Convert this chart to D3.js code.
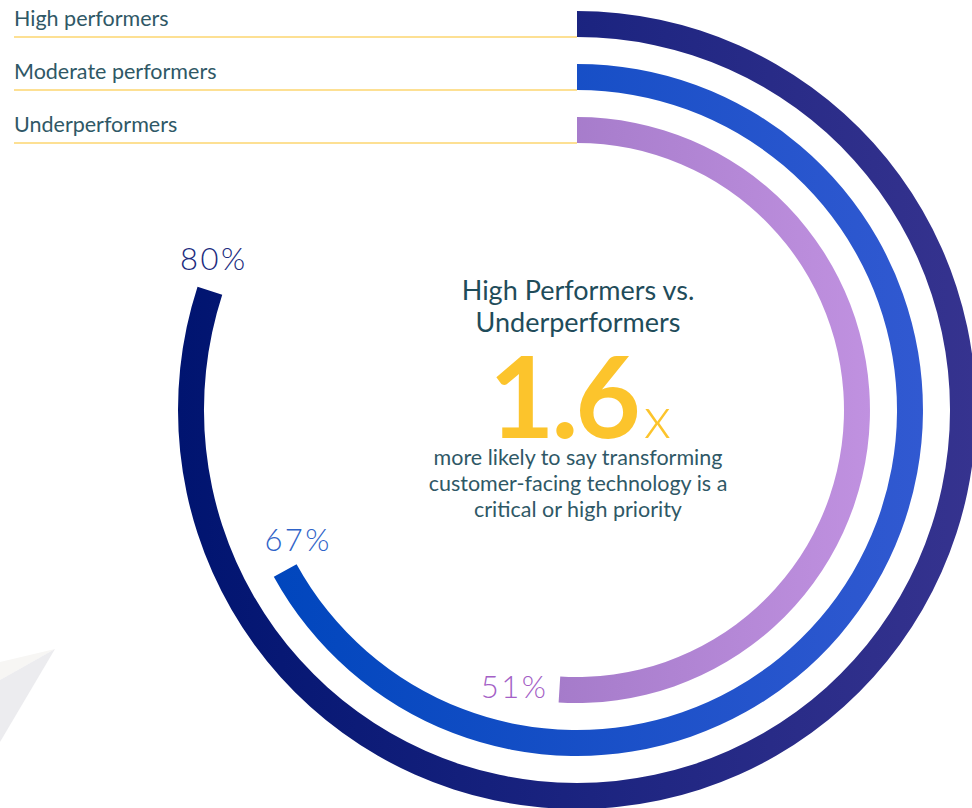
<!DOCTYPE html>
<html>
<head>
<meta charset="utf-8">
<script src="https://cdn.jsdelivr.net/npm/d3@7"></script>
<style>
  body { margin: 0; background: #fff; }
  svg { display: block; font-family: Lato, "Open Sans", sans-serif; }
</style>
</head>
<body>
<svg id="chart"></svg>
<script>
var width = 972;
var height = 808;

// data
var categories = ['High performers', 'Moderate performers', 'Underperformers'];
var values = [80, 67, 51];
var labels = ['80%', '67%', '51%'];
var colorsLeft = ['#001470', '#0046bd', '#a57bca'];
var colorsRight = ['#36338f', '#3159d1', '#c091e0'];
var labelColors = ['#1b2b7e', '#2f63c8', '#a45fc6'];

var headline = ['High Performers vs.', 'Underperformers'];
var bigNumber = '1.6';
var blurb = ['more likely to say transforming', 'customer-facing technology is a', 'critical or high priority'];

var cx = 577, cy = 410;

var svg = d3.select('#chart')
    .attr('width', width)
    .attr('height', height);

// faint paper plane piece, bottom left
svg.append('path')
    .attr('d', 'M55,649 L0,662 L0,680 Z')
    .style('fill', '#f7f6f4');
svg.append('path')
    .attr('d', 'M55,649 L0,680 L0,742 Z')
    .style('fill', '#ececef');

var angle = d3.scaleLinear()
    .domain([0, 100])
    .range([0, 2 * Math.PI]);

var radius = d3.scaleBand()
    .domain(categories.slice().reverse())
    .range([267, 399])
    .paddingInner(0.51);

var bw = radius.bandwidth();

var arc = d3.arc()
    .innerRadius(function(d){ return radius(d.cat); })
    .outerRadius(function(d){ return radius(d.cat) + bw; })
    .startAngle(0)
    .endAngle(function(d){ return angle(d.value); });

var rows = categories.map(function(c, i){
    return {cat: c, value: values[i], label: labels[i], i: i};
});

// gradients run left -> right over each arc's horizontal extent (centre coords)
var defs = svg.append('defs');
rows.forEach(function(d){
    var r1 = radius(d.cat) + bw;
    var a = angle(d.value);
    var left = a > 1.5 * Math.PI ? -r1 : r1 * Math.sin(a) - 2;
    var g = defs.append('linearGradient')
        .attr('id', 'grad' + d.i)
        .attr('gradientUnits', 'userSpaceOnUse')
        .attr('x1', left).attr('y1', 0)
        .attr('x2', r1).attr('y2', 0);
    g.append('stop').attr('offset', '0%').attr('stop-color', colorsLeft[d.i]);
    g.append('stop').attr('offset', '100%').attr('stop-color', colorsRight[d.i]);
});

// legend rules + names
var legend = svg.append('g');
rows.forEach(function(d){
    var yl = cy - radius(d.cat);
    legend.append('line')
        .attr('x1', 14).attr('x2', cx)
        .attr('y1', yl).attr('y2', yl)
        .style('stroke', '#fdd66f')
        .style('stroke-width', 1.6);
    legend.append('text')
        .attr('x', 14)
        .attr('y', yl - 11)
        .text(d.cat)
        .style('font-size', '21.5px')
        .style('fill', '#2f5866');
});

var g = svg.append('g')
    .attr('transform', 'translate(' + cx + ',' + cy + ')');

g.selectAll('path.bar')
    .data(rows)
    .enter()
    .append('path')
    .attr('class', 'bar')
    .attr('d', arc)
    .style('fill', function(d){ return 'url(#grad' + d.i + ')'; });

// value labels near arc ends
var labelOffsets = [[4, -17], [13, -26], [-11, 9]];
var labelAnchor = ['middle', 'middle', 'end'];
g.selectAll('text.val')
    .data(rows)
    .enter()
    .append('text')
    .attr('class', 'val')
    .attr('x', function(d){
        var a = angle(d.value), r = radius(d.cat) + bw / 2;
        return r * Math.sin(a) + labelOffsets[d.i][0];
    })
    .attr('y', function(d){
        var a = angle(d.value), r = radius(d.cat) + (d.i < 2 ? bw : bw / 2);
        return -r * Math.cos(a) + labelOffsets[d.i][1];
    })
    .attr('text-anchor', function(d){ return labelAnchor[d.i]; })
    .text(function(d){ return d.label; })
    .style('font-size', '31px')
    .style('font-weight', 300)
    .style('letter-spacing', '2.5px')
    .style('fill', function(d){ return labelColors[d.i]; });

// centre copy
var center = svg.append('g').attr('text-anchor', 'middle');
headline.forEach(function(t, i){
    center.append('text')
        .attr('x', cx + 1).attr('y', 300 + i * 32)
        .text(t)
        .style('font-size', '27px')
        .style('fill', '#1f4c5a');
});

var num = center.append('text')
    .attr('x', cx + 3).attr('y', 438)
    .style('fill', '#fcc42c');
num.append('tspan')
    .text(bigNumber)
    .style('font-size', '113px')
    .style('font-weight', 700)
    .style('letter-spacing', '-3px');
num.append('tspan')
    .attr('dx', 6)
    .text('x')
    .style('font-size', '58px')
    .style('font-weight', 300);

blurb.forEach(function(t, i){
    center.append('text')
        .attr('x', cx + 1).attr('y', 465 + i * 26)
        .text(t)
        .style('font-size', '21.5px')
        .style('fill', '#2f5866');
});
</script>
</body>
</html>
